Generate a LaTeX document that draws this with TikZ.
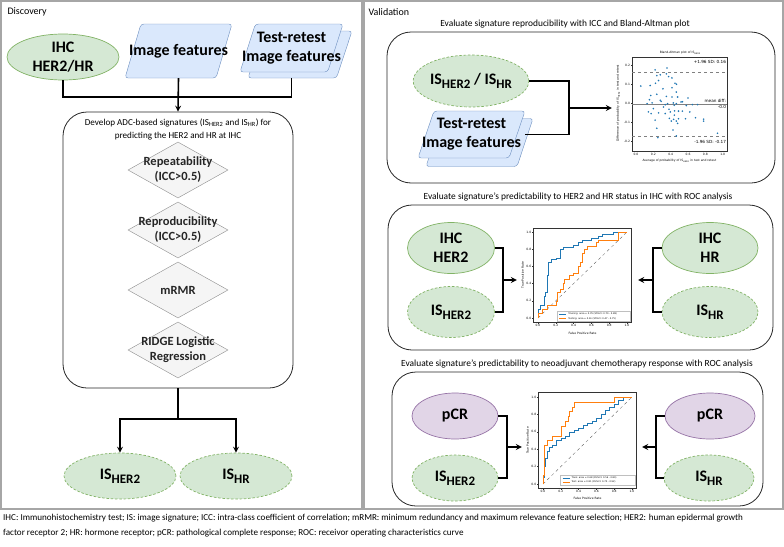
\documentclass[tikz,border=0pt]{standalone}
\usepackage{fontspec}
\setmainfont{Carlito}
\newfontfamily\plotfont{DejaVu Sans}
\usetikzlibrary{shapes.geometric, arrows}
\definecolor{gfill}{HTML}{D5E8D4}
\definecolor{gdraw}{HTML}{82B366}
\definecolor{bfill}{HTML}{DAE8FC}
\definecolor{bdraw}{HTML}{6C8EBF}
\definecolor{pfill}{HTML}{E1D5E7}
\definecolor{pdraw}{HTML}{9673A6}
\definecolor{dfill}{HTML}{F5F5F5}
\definecolor{ddraw}{HTML}{8C8C8C}
\definecolor{mplblue}{HTML}{1F77B4}
\definecolor{mplorange}{HTML}{FF7F0E}
\definecolor{panelgray}{HTML}{A6A6A6}
\newcommand{\bigfont}{\fontsize{16}{19}\selectfont\bfseries}
\newcommand{\ssub}[1]{\raisebox{-0.28em}{\fontsize{13}{13}\selectfont #1}}
\tikzstyle{panel} = [draw=panelgray, line width=1.6pt]
\tikzstyle{container} = [rectangle, rounded corners=24pt, draw=black!85, line width=0.8pt, fill=white]
\tikzstyle{decision} = [diamond, draw=ddraw, fill=dfill, inner sep=0pt, minimum width=100pt, minimum height=56pt]
\tikzstyle{dtext} = [font=\fontsize{12.5}{15}\selectfont\bfseries, text=black!85, align=center]
\tikzstyle{io} = [trapezium, trapezium left angle=78, trapezium right angle=102, trapezium stretches=true, rounded corners=3pt, draw=bdraw, fill=bfill, inner sep=2pt]
\tikzstyle{iotext} = [font=\fontsize{16}{19}\selectfont\bfseries, align=center]
\tikzstyle{status} = [ellipse, draw=gdraw, fill=gfill, line width=0.7pt, inner sep=0pt, font=\bigfont, align=center]
\tikzstyle{signature} = [status, dash pattern=on 2.5pt off 1.8pt]
\tikzstyle{response} = [ellipse, draw=pdraw, fill=pfill, line width=0.7pt, inner sep=0pt, font=\bigfont, align=center]
\tikzstyle{heading} = [font=\fontsize{9.4}{13}\selectfont, align=center]
\tikzstyle{link} = [line width=1.6pt]
\tikzstyle{arrow} = [line width=1.6pt,->,>=stealth]
\tikzstyle{plotzone} = [inner sep=0pt]
\tikzstyle{plotframe} = [draw=black!80, line width=0.4pt, fill=white]
\tikzstyle{tickmark} = [draw=black!80, line width=0.3pt]
\tikzstyle{ticklab} = [font=\plotfont\fontsize{3}{3.5}\selectfont, inner sep=0.5pt]
\tikzstyle{axlab} = [font=\plotfont\fontsize{3}{3.5}\selectfont, inner sep=0pt]
\tikzstyle{satext} = [font=\plotfont\fontsize{4.2}{5}\selectfont, inner sep=0pt]
\tikzstyle{legtext} = [font=\plotfont\fontsize{2.3}{3}\selectfont, inner sep=0pt]
\tikzstyle{trainline} = [draw=mplblue, line width=0.6pt]
\tikzstyle{testline} = [draw=mplorange, line width=0.6pt]
\tikzstyle{diag} = [draw=black!70, line width=0.3pt, dashed]
\tikzstyle{baline} = [draw=gray, line width=0.35pt]

\begin{document}
\begin{tikzpicture}[x=1pt, y=-1pt, node distance=60pt]
\useasboundingbox (0,0) rectangle (784,546);

% the two panels
\draw[panel] (1,1) rectangle (362,509);
\draw[panel] (364,1) rectangle (783,509);
\node (disc) [anchor=west, font=\fontsize{10}{12}\selectfont] at (4,12) {Discovery};
\node (valid) [anchor=west, font=\fontsize{10}{12}\selectfont] at (365,12) {Validation};

% discovery
\node (ihc) [status, minimum width=112pt, minimum height=46pt] at (63,57) {IHC\\HER2/HR};
\node (imgf) [io, minimum width=107pt, minimum height=54pt, label={[iotext]center:Image features}] at (178.5,51) {};
\node (trb) [io, minimum width=104pt, minimum height=47pt] at (300,54.5) {};
\node (trf) [io, minimum width=103pt, minimum height=48pt, label={[iotext]center:{Test-retest\\Image features}}] at (291.5,48) {};

\node (develop) [container, minimum width=230pt, minimum height=276pt] at (178,250) {};
\node (devtext) [heading, font=\fontsize{9.1}{13}\selectfont] at (178,129.5) {Develop ADC-based signatures (IS\textsubscript{HER2} and IS\textsubscript{HR}) for\\predicting the HER2 and HR at IHC};
\node (rep) [decision, label={[dtext]center:{Repeatability\\(ICC>0.5)}}] at (178,170) {};
\node (repro) [decision, below of=rep, label={[dtext]center:{Reproducibility\\(ICC>0.5)}}] {};
\node (mrmr) [decision, below of=repro, label={[dtext]center:mRMR}] {};
\node (ridge) [decision, below of=mrmr, label={[dtext]center:{RIDGE Logistic\\Regression}}] {};

\node (ish) [signature, minimum width=112pt, minimum height=46pt] at (120,476) {IS\ssub{HER2}};
\node (ishr) [signature, minimum width=112pt, minimum height=46pt] at (236,476) {IS\ssub{HR}};

\coordinate (merge) at (178,97);
\coordinate (split) at (178,419);
\draw [link] (ihc.south) |- (merge) -| (trb.south -| trf.south);
\draw [arrow] (imgf.south) -- (develop.north);
\draw [link] (develop.south) -- (split);
\draw [arrow] (split) -| (ish.north);
\draw [arrow] (split) -| (ishr.north);

% validation: reproducibility
\node (t1) [heading] at (565,24) {Evaluate signature reproducibility with ICC and Bland-Altman plot};
\node (evalrep) [container, minimum width=388pt, minimum height=151pt] at (581,107.5) {};
\node (isb) [signature, minimum width=112pt, minimum height=52pt] at (471,81) {IS\ssub{HER2} / IS\ssub{HR}};
\node (trb2) [io, minimum width=107pt, minimum height=48pt] at (479.5,142.5) {};
\node (trf2) [io, minimum width=107pt, minimum height=47pt, label={[iotext]center:{Test-retest\\Image features}}] at (471.5,134.5) {};
\node (baplot) [plotzone, minimum width=117pt, minimum height=120pt] at (670.5,108) {};

\begin{scope}[shift={(636,103.3)}, x=86.7pt, y=191pt]
\draw[plotframe] (-0.046,-0.25) rectangle (1.05,0.242);
\draw[baline, dashed] (-0.046,0.162) -- (1.05,0.162);
\draw[baline] (-0.046,-0.002) -- (1.05,-0.002);
\draw[baline, dashed] (-0.046,-0.17) -- (1.05,-0.17);
\foreach \a/\d in {0.055/0.090, 0.22/0.175, 0.357/0.185, 0.24/0.145, 0.28/0.149, 0.35/0.154, 0.376/0.14, 0.415/0.133, 0.26/0.119, 0.45/0.105, 0.466/0.10, 0.163/0.093, 0.225/0.105, 0.31/0.076, 0.415/0.081, 0.465/0.059, 0.17/0.041, 0.24/0.047, 0.35/0.036, 0.155/0.019, 0.28/0.016, 0.29/0.010, 0.415/0.033, 0.48/0.033, 0.52/0.007, 0.535/0.008, 0.60/0.028, 0.128/-0.002, 0.186/0.002, 0.364/-0.002, 0.337/-0.007, 0.43/0.002, 0.44/-0.010, 0.465/-0.002, 0.58/-0.012, 0.65/-0.007, 0.71/-0.007, 0.143/-0.045, 0.174/-0.054, 0.20/-0.028, 0.26/-0.050, 0.317/-0.019, 0.38/-0.031, 0.395/-0.045, 0.445/-0.040, 0.49/-0.041, 0.535/-0.041, 0.62/-0.045, 0.337/-0.054, 0.442/-0.062, 0.384/-0.079, 0.434/-0.084, 0.49/-0.081, 0.465/-0.093, 0.48/-0.105, 0.57/-0.081, 0.686/-0.076, 0.78/-0.083, 0.78/-0.093, 0.22/-0.088, 0.407/-0.093, 0.426/-0.140, 0.24/-0.131, 0.252/-0.18, 0.465/-0.171, 0.94/-0.157}
  \fill[mplblue] (\a,\d) circle (0.9pt);
\foreach \t/\l [count=\i] in {0/0.0,0.2/0.2,0.4/0.4,0.6/0.6,0.8/0.8,1/1.0} {
  \draw[tickmark] (\t,-0.25) -- ++(0,-1.2pt);
  \node (bax\i) [ticklab, anchor=north] at (\t,-0.258) {\l};
}
\foreach \t/\l [count=\i] in {-0.2/-0.2,-0.1/-0.1,0/0.0,0.1/0.1,0.2/0.2} {
  \draw[tickmark] (-0.046,\t) -- ++(-1.2pt,0);
  \node (bay\i) [ticklab, anchor=east] at (-0.062,\t) {\l};
}
\node (batitle) [axlab] at (0.51,0.264) {Bland-Altman plot of IS\textsubscript{HER2}};
\node (baxl) [axlab] at (0.5,-0.302) {Average of probability of IS\textsubscript{HER2} in test and retest};
\node (bayl) [axlab, rotate=90] at (-0.205,0) {Difference of probability of IS\textsubscript{HER2} in test and retest};
\node (sdup) [satext, anchor=east] at (1.04,0.218) {+1.96 SD: 0.16};
\node (mdiff) [satext, anchor=east] at (1.04,0.014) {mean diff:};
\node (mval) [satext, anchor=east] at (1.04,-0.018) {-0.0};
\node (sddn) [satext, anchor=east] at (1.04,-0.201) {-1.96 SD: -0.17};
\end{scope}

\coordinate (j1) at (569,108);
\draw [link] (isb.east) -| (j1 |- trf2.east) -- (trf2.east -| trb2.east);
\draw [arrow] (j1) -- (baplot.west);

% validation: HER2 and HR status
\node (t2) [heading] at (578,197) {Evaluate signature's predictability to HER2 and HR status in IHC with ROC analysis};
\node (evalher) [container, minimum width=385pt, minimum height=145pt] at (580.5,277.5) {};
\node (ihc2) [status, minimum width=87pt, minimum height=51pt] at (451,248) {IHC\\HER2};
\node (is2) [signature, minimum width=87pt, minimum height=51pt] at (451,312) {IS\ssub{HER2}};
\node (ihcr) [status, minimum width=96pt, minimum height=51pt] at (710,248) {IHC\\HR};
\node (isr) [signature, minimum width=96pt, minimum height=51pt] at (710,312) {IS\ssub{HR}};
\node (roc1) [plotzone, minimum width=121pt, minimum height=110pt] at (577.5,280) {};

\begin{scope}[shift={(538,318)}, x=89pt, y=86pt]
\draw[plotframe] (-0.05,-0.05) rectangle (1.05,1.05);
\draw[diag] (0,0) -- (1,1);
\draw[trainline] (0,0) |- (0.03,0.1) |- (0.07,0.15) |- (0.08,0.25) |- (0.1,0.3) |- (0.12,0.5) |- (0.15,0.65) |- (0.2,0.68) |- (0.25,0.7) |- (0.28,0.8) |- (0.4,0.82) |- (0.45,0.85) |- (0.5,0.88) |- (0.6,0.9) |- (0.68,0.93) |- (0.72,0.95) |- (0.85,0.97) |- (1,1);
\draw[testline] (0,0) |- (0.05,0.05) |- (0.1,0.1) |- (0.2,0.15) |- (0.22,0.2) |- (0.25,0.3) |- (0.28,0.33) |- (0.3,0.4) |- (0.35,0.45) |- (0.4,0.5) |- (0.45,0.52) |- (0.48,0.6) |- (0.5,0.65) |- (0.52,0.75) |- (0.55,0.8) |- (0.65,0.83) |- (0.68,0.88) |- (0.9,0.9) |- (1,1);
\foreach \t/\l [count=\i] in {0/0.0,0.2/0.2,0.4/0.4,0.6/0.6,0.8/0.8,1/1.0} {
  \draw[tickmark] (\t,-0.05) -- ++(0,-1.2pt);
  \node (rax\i) [ticklab, anchor=north] at (\t,-0.065) {\l};
  \draw[tickmark] (-0.05,\t) -- ++(-1.2pt,0);
  \node (ray\i) [ticklab, anchor=east] at (-0.068,\t) {\l};
}
\node (raxl) [axlab] at (0.5,-0.175) {False Positive Rate};
\node (rayl) [axlab, rotate=90] at (-0.17,0.5) {True Positive Rate};
\draw[draw=black!25, fill=white, line width=0.2pt] (0.21,-0.035) rectangle (1.035,0.075);
\draw[trainline] (0.24,0.045) -- (0.32,0.045);
\node (rleg1) [legtext, anchor=west] at (0.34,0.045) {Training: area = 0.79 (95\%CI: 0.70 - 0.88)};
\draw[testline] (0.24,-0.005) -- (0.32,-0.005);
\node (rleg2) [legtext, anchor=west] at (0.34,-0.005) {Testing: area = 0.61 (95\%CI: 0.47 - 0.75)};
\end{scope}

\coordinate (j2) at (503,280);
\coordinate (j3) at (653,280);
\draw [link] (ihc2.east) -| (j2 |- is2.east) -- (is2.east);
\draw [arrow] (j2) -- (roc1.west);
\draw [link] (ihcr.west) -| (j3 |- isr.west) -- (isr.west);
\draw [arrow] (j3) -- (roc1.east);

% validation: chemotherapy response
\node (t3) [heading] at (577,364) {Evaluate signature's predictability to neoadjuvant chemotherapy response with ROC analysis};
\node (evalpcr) [container, minimum width=371pt, minimum height=134pt] at (577.5,439) {};
\node (pcr) [response, minimum width=86pt, minimum height=46pt] at (455,416) {pCR};
\node (is3) [signature, minimum width=86pt, minimum height=46pt] at (455,478) {IS\ssub{HER2}};
\node (pcrr) [response, minimum width=90pt, minimum height=46pt] at (710,416) {pCR};
\node (isr3) [signature, minimum width=90pt, minimum height=46pt] at (709,478) {IS\ssub{HR}};
\node (roc2) [plotzone, minimum width=120pt, minimum height=110pt] at (582,447) {};

\begin{scope}[shift={(543,484)}, x=89pt, y=87pt]
\draw[plotframe] (-0.05,-0.05) rectangle (1.05,1.05);
\draw[diag] (0,0) -- (1,1);
\draw[trainline] (0,0) |- (0.02,0.08) |- (0.03,0.2) |- (0.05,0.3) |- (0.07,0.38) |- (0.1,0.42) |- (0.15,0.45) |- (0.2,0.5) |- (0.25,0.52) |- (0.3,0.55) |- (0.35,0.6) |- (0.4,0.62) |- (0.45,0.64) |- (0.5,0.67) |- (0.55,0.7) |- (0.6,0.72) |- (0.65,0.75) |- (0.7,0.8) |- (0.75,0.85) |- (0.8,0.88) |- (0.85,0.92) |- (0.9,0.96) |- (0.93,1) -- (1,1);
\draw[testline] (0,0) |- (0.01,0.1) |- (0.02,0.22) |- (0.05,0.44) |- (0.1,0.5) |- (0.2,0.55) |- (0.25,0.66) |- (0.28,0.72) |- (0.3,0.78) |- (0.33,0.83) |- (0.35,0.88) |- (0.8,0.94) |- (1,1);
\foreach \t/\l [count=\i] in {0/0.0,0.2/0.2,0.4/0.4,0.6/0.6,0.8/0.8,1/1.0} {
  \draw[tickmark] (\t,-0.05) -- ++(0,-1.2pt);
  \node (pax\i) [ticklab, anchor=north] at (\t,-0.065) {\l};
  \draw[tickmark] (-0.05,\t) -- ++(-1.2pt,0);
  \node (pay\i) [ticklab, anchor=east] at (-0.068,\t) {\l};
}
\node (paxl) [axlab] at (0.5,-0.16) {False Positive Rate};
\node (payl) [axlab, rotate=90] at (-0.17,0.5) {True Positive Rate};
\draw[draw=black!25, fill=white, line width=0.2pt] (0.19,-0.015) rectangle (1.03,0.1);
\draw[trainline] (0.22,0.07) -- (0.3,0.07);
\node (pleg1) [legtext, anchor=west] at (0.32,0.07) {Train: area = 0.68 (95\%CI: 0.56 - 0.80)};
\draw[testline] (0.22,0.02) -- (0.3,0.02);
\node (pleg2) [legtext, anchor=west] at (0.32,0.02) {Test: area = 0.81 (95\%CI: 0.70 - 0.92)};
\end{scope}

\coordinate (j4) at (507,447);
\coordinate (j5) at (656,447);
\draw [link] (pcr.east) -| (j4 |- is3.east) -- (is3.east);
\draw [arrow] (j4) -- (roc2.west);
\draw [link] (pcrr.west) -| (j5 |- isr3.west) -- (isr3.west);
\draw [arrow] (j5) -- (roc2.east);

% abbreviations
\node (notes) [anchor=north west, align=left, inner sep=0pt, font=\fontsize{9.1}{15}\selectfont] at (3,514) {IHC: Immunohistochemistry test; IS: image signature; ICC: intra-class coefficient of correlation; mRMR: minimum redundancy and maximum relevance feature selection; HER2: human epidermal growth\\factor receptor 2; HR: hormone receptor; pCR: pathological complete response; ROC: receivor operating characteristics curve};

\end{tikzpicture}
\end{document}
